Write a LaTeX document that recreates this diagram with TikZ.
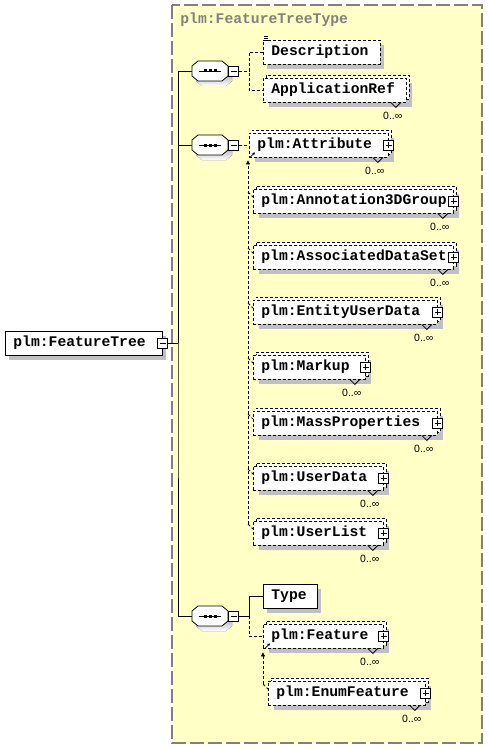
\documentclass[tikz,border=0pt]{standalone}
\usepackage{fontspec}
\usetikzlibrary{calc,shadows,arrows.meta}
\newfontfamily\elfont[HyphenChar=None]{Liberation Mono}
\newfontfamily\occfont{Liberation Sans}
\definecolor{panel}{HTML}{FFFFC6}
\definecolor{shade}{HTML}{C0C0C0}
\definecolor{titlegray}{HTML}{808080}
\newcommand{\occmark}[1]{%
  \draw ($(#1.south east)+(-16,0)$) -- ++(5,5) -- ++(5,-5);
  \node[occ] (#1-o) at ($(#1.south east)+(-14,13)$) {0..∞};}
\newcommand{\octo}{(-12,-10) -- (12,-10) -- (18,-5) -- (18,5) -- (12,10) -- (-12,10) -- (-18,5) -- (-18,-5) -- cycle}
\tikzset{
  elem/.style={draw, fill=white, anchor=west, align=left, inner xsep=8pt, inner ysep=0pt,
    minimum height=24pt, text height=10pt, text depth=3pt,
    font=\elfont\bfseries\fontsize{14.7}{16}\selectfont},
  opt/.style={dash pattern=on 3pt off 2pt},
  single/.style={general shadow={shadow xshift=4pt, shadow yshift=-5pt, fill=shade}},
  multi/.style={general shadow={shadow xshift=6pt, shadow yshift=-5pt, fill=shade},
    general shadow={shadow xshift=3pt, shadow yshift=3pt, fill=white, draw=black,
      line width=0.8pt, dash pattern=on 3pt off 2pt}},
  seq/.style={minimum width=36pt, minimum height=20pt, inner sep=0pt},
  minusbox/.style={draw, fill=white, minimum size=10pt, inner sep=0pt,
    path picture={\draw ([xshift=2pt]path picture bounding box.west) -- ([xshift=-2pt]path picture bounding box.east);}},
  plusbox/.style={draw, fill=white, minimum size=10pt, inner sep=0pt,
    path picture={\draw ([xshift=2pt]path picture bounding box.west) -- ([xshift=-2pt]path picture bounding box.east);
      \draw ([yshift=-2pt]path picture bounding box.north) -- ([yshift=2pt]path picture bounding box.south);}},
  occ/.style={inner sep=0pt, font=\occfont\fontsize{10.5}{11}\selectfont},
  title/.style={anchor=west, inner sep=0pt, text=titlegray, font=\elfont\bfseries\fontsize{14.7}{16}\selectfont},
  subarrow/.style={-{Triangle[length=4pt, width=4pt]}},
}
\begin{document}
\begin{tikzpicture}[x=1pt, y=-1pt, line width=0.8pt]
  \useasboundingbox (0,0) rectangle (488,749);
  \fill[panel] (172,5) rectangle (482,743);
  \draw[titlegray, line width=1.2pt, dash pattern=on 14pt off 4pt] (172,5) rectangle (482,743);
  \node[title] (ttl) at (180,20) {plm:FeatureTreeType};

  \node[elem, single, text width=141pt] (root) at (5,343) {plm:FeatureTree};
  \node[minusbox] (root-m) at (root.east) {};

  \node[seq] (seq1) at (210,71) {};
  \node[seq] (seq2) at (210,145) {};
  \node[seq] (seq3) at (210,616) {};
  \foreach \s in {seq1,seq2,seq3} {
    \fill[shade, shift={($(\s.center)+(4,5)$)}] \octo;
    \filldraw[fill=white, shift={(\s.center)}] \octo;
    \node[minusbox, anchor=west] (\s-m) at (\s.east) {};
    \draw ($(\s.west)+(7,0)$) -- ($(\s.east)+(-7,0)$);
    \foreach \d in {-5,0,5} \fill ($(\s.center)+({\d-1.5},-1.5)$) rectangle ++(3,3);
  }

  \coordinate (trunk) at (178,343);
  \draw (root-m) -- (trunk);
  \draw (seq1) -| (trunk) |- (seq3);
  \draw (trunk) |- (seq2);

  \node[elem, opt, single, text width=101pt] (desc) at (263,52) {Description};
  \foreach \k in {-3,-1,1} \draw[line width=0.6pt] ($(desc.north west)+(1,\k)$) -- ++(4,0);
  \node[elem, opt, multi, text width=127pt] (appref) at (263,90) {ApplicationRef};
  \occmark{appref}
  \coordinate (j1) at ($(seq1-m.east)+(10,0)$);
  \draw[opt] (seq1-m) -- (j1);
  \draw[opt] (desc) -| (j1) |- (appref);

  \node[elem, opt, multi, text width=123pt] (attr) at (249,145) {plm:Attribute};
  \node[plusbox] (attr-p) at (attr.east) {};
  \occmark{attr}
  \draw[opt] (seq2-m) -- (attr);
  \foreach \n/\t/\y/\w in {ann/Annotation3DGroup/201/184, assoc/AssociatedDataSet/257/184,
      eud/EntityUserData/312/168, markup/Markup/367/96, mass/MassProperties/423/168,
      udata/UserData/478/114, ulist/UserList/533/114} {
    \node[elem, opt, multi, text width=\w pt] (\n) at (253,\y) {plm:\t};
    \node[plusbox] (\n-p) at (\n.east) {};
    \occmark{\n}
    \draw[opt] ($(\n.west)+(-5,-9)$) -- ($(\n.west)+(0,-4)$);
  }
  \coordinate (sub1) at ($(attr.south west)+(-1,3)$);
  \draw[opt, subarrow] ($(ulist.west)+(-5,-9)$) -- (sub1);
  \draw[-{Stealth[length=3pt, width=3pt]}] ($(attr.south west)+(1,0)$) -- ++(5,-5);

  \node[elem, single, text width=38pt] (type) at (263,596) {Type};
  \node[elem, opt, multi, text width=104pt] (feat) at (263,636) {plm:Feature};
  \node[plusbox] (feat-p) at (feat.east) {};
  \occmark{feat}
  \node[elem, opt, multi, text width=141pt] (enumf) at (268,693) {plm:EnumFeature};
  \node[plusbox] (enumf-p) at (enumf.east) {};
  \occmark{enumf}
  \coordinate (j3) at ($(seq3-m.east)+(10,0)$);
  \draw (seq3-m) -- (j3) |- (type);
  \draw[opt] (j3) |- (feat);
  \coordinate (sub2) at ($(feat.south west)+(0,4)$);
  \draw[opt] ($(enumf.west)+(-5,-9)$) -- ($(enumf.west)+(0,-4)$);
  \draw[opt, subarrow] ($(enumf.west)+(-5,-9)$) -- (sub2);
  \draw[-{Stealth[length=3pt, width=3pt]}] ($(feat.south west)+(2,0)$) -- ++(5,-5);
\end{tikzpicture}
\end{document}
